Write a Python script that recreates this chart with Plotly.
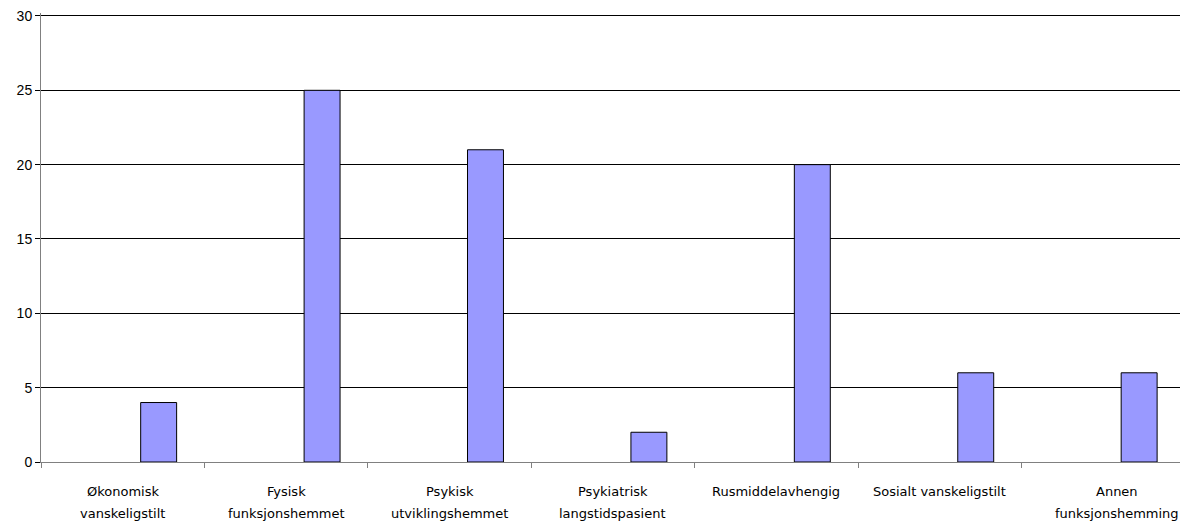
import plotly.graph_objects as go

# Kategorier (to linjer per etikett) og antall
line1 = ["Økonomisk", "Fysisk", "Psykisk", "Psykiatrisk", "Rusmiddelavhengig",
         "Sosialt vanskeligstilt", "Annen"]
line2 = ["vanskeligstilt", "funksjonshemmet", "utviklingshemmet", "langstidspasient",
         "", "", "funksjonshemming"]
categories = [a + (" " + b if b else "") for a, b in zip(line1, line2)]
values = [4, 25, 21, 2, 20, 6, 6]
y_ticks = [0, 5, 10, 15, 20, 25, 30]

fig = go.Figure()
fig.add_trace(go.Bar(
    x=categories, y=values,
    width=0.22, offset=0.11,
    marker=dict(color="#9999FF", line=dict(color="black", width=1)),
    hoverinfo="x+y",
))

label_font = dict(family="DejaVu Sans", size=13, color="black")
# the last label is nudged left so it stays inside the page
shifts = [0, 0, 0, 0, 0, 0, 14]
for cat, a, b, dx in zip(categories, line1, line2, shifts):
    fig.add_annotation(x=cat, xref="x", y=-0.065, yref="paper", text=a,
                       showarrow=False, font=label_font, xshift=dx, yanchor="middle")
    if b:
        fig.add_annotation(x=cat, xref="x", y=-0.115, yref="paper", text=b,
                           showarrow=False, font=label_font, xshift=dx, yanchor="middle")

fig.update_layout(
    width=1180, height=521,
    margin=dict(l=41, r=0, t=13, b=59),
    paper_bgcolor="white", plot_bgcolor="white",
    showlegend=False,
    xaxis=dict(
        type="category", range=[-0.5, 6.47],
        showticklabels=False, ticks="outside", tickson="boundaries",
        ticklen=5, tickcolor="#808080", showgrid=False,
        showline=True, linecolor="#808080", linewidth=1,
    ),
    yaxis=dict(
        range=[0, 30.2], tickvals=y_ticks, ticks="outside", ticklen=5,
        tickcolor="black", showgrid=True, gridcolor="black", gridwidth=1,
        showline=True, linecolor="#808080", linewidth=1, zeroline=False,
        tickfont=dict(family="Liberation Sans", size=14, color="black"),
    ),
)

fig.write_html("out.html")
